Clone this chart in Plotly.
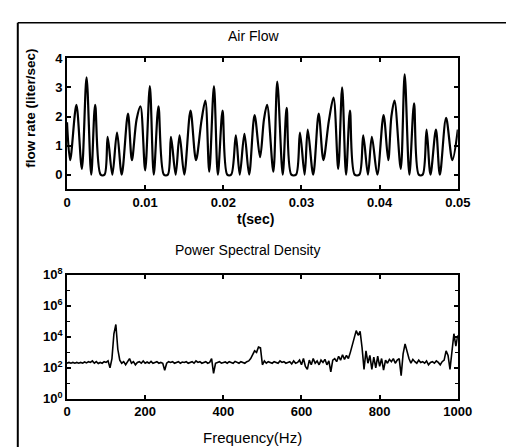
import plotly.graph_objects as go

W, H = 514, 447

# ---- Air flow (read turning points of the trace) ----
flow_t = [0.0000, 0.0004, 0.0012, 0.0019, 0.0025, 0.0031, 0.0036, 0.0043, 0.0048, 0.0052,
          0.0058, 0.0064, 0.0070, 0.0078, 0.0083, 0.0089, 0.0094, 0.0100, 0.0106, 0.0111,
          0.0117, 0.0124, 0.0129, 0.0133, 0.0139, 0.0144, 0.0150, 0.0158, 0.0165, 0.0172,
          0.0177, 0.0182, 0.0188, 0.0193, 0.0199, 0.0205, 0.0210, 0.0216, 0.0221, 0.0227,
          0.0233, 0.0240, 0.0247, 0.0252, 0.0256, 0.0264, 0.0269, 0.0276, 0.0281, 0.0287,
          0.0293, 0.0298, 0.0304, 0.0308, 0.0315, 0.0322, 0.0328, 0.0335, 0.0341, 0.0347,
          0.0352, 0.0357, 0.0362, 0.0368, 0.0374, 0.0379, 0.0385, 0.0390, 0.0397, 0.0405,
          0.0411, 0.0415, 0.0419, 0.0427, 0.0432, 0.0438, 0.0444, 0.0450, 0.0455, 0.0460,
          0.0465, 0.0472, 0.0477, 0.0485, 0.0493, 0.0500]
flow_v = [1.8, 0.5, 2.4, 0.2, 3.35, 0.0, 2.4, 0.0, 0.0, 1.3,
          0.0, 1.45, 0.0, 2.1, 0.5, 1.9, 2.35, 0.15, 3.05, 0.0,
          2.35, 0.0, 0.0, 1.3, 0.0, 1.35, 0.0, 2.2, 0.5, 1.85,
          2.55, 0.1, 3.05, 0.0, 2.2, 0.0, 0.0, 1.35, 0.0, 1.4,
          0.0, 2.05, 0.6, 1.9, 2.4, 0.1, 3.2, 0.0, 2.3, 0.0,
          0.0, 1.45, 0.0, 1.55, 0.0, 2.1, 0.5, 1.85, 2.65, 0.2,
          3.0, 0.0, 2.2, 0.0, 0.0, 1.35, 0.0, 1.3, 0.0, 2.05,
          0.5, 2.0, 2.55, 0.2, 3.45, 0.0, 2.45, 0.0, 0.0, 1.55,
          0.0, 1.55, 0.0, 1.95, 0.5, 1.55]

# ---- Power spectral density (log10 of value, every 5 Hz) ----
psd_freq = list(range(0, 1001, 5))
psd_log10 = [
    2.3, 2.35, 2.3, 2.35, 2.3, 2.35, 2.3, 2.35, 2.3, 2.38, 2.32, 2.4, 2.35, 2.45, 2.3, 2.4, 2.28, 2.35, 2.3, 2.4,
    2.35, 2.45, 2.0, 2.6, 4.2, 4.8, 3.2, 2.5, 2.3, 2.4, 2.2, 2.45, 2.6, 2.3, 2.4, 2.2, 2.35, 2.4, 2.3, 2.45,
    2.3, 2.38, 2.3, 2.42, 2.3, 2.35, 2.4, 2.3, 2.35, 2.3, 1.85, 2.3, 2.4, 2.35, 2.4, 2.3, 2.35, 2.4, 2.3, 2.38,
    2.35, 2.4, 2.3, 2.35, 2.4, 2.3, 2.45, 2.35, 2.4, 2.3, 2.35, 2.4, 2.3, 2.35, 2.6, 1.65, 2.3, 2.35, 2.4, 2.3,
    2.35, 2.38, 2.3, 2.4, 2.35, 2.3, 2.42, 2.35, 2.3, 2.4, 2.35, 2.3, 2.4, 2.45, 2.6, 2.9, 3.1, 3.0, 3.35, 3.3,
    2.2, 2.45, 2.3, 2.4, 2.35, 2.3, 2.4, 2.35, 2.3, 2.45, 2.35, 2.4, 2.3, 2.35, 2.4, 2.25, 2.45, 2.3, 2.35, 2.5,
    2.2, 2.6, 2.1, 1.9, 2.5, 2.2, 2.6, 2.3, 2.45, 2.2, 2.5, 2.35, 2.55, 2.2, 2.45, 1.75, 2.5, 2.6, 2.4, 2.75,
    2.5, 2.85, 2.55, 2.8, 2.6, 3.0, 3.5, 3.9, 4.4, 4.1, 4.35, 3.3, 1.9, 3.1, 2.3, 2.8, 1.9, 2.7, 2.0, 2.75,
    2.1, 2.6, 1.85, 2.5, 2.3, 2.55, 2.4, 2.6, 2.3, 2.5, 2.6, 1.5, 2.9, 3.55, 3.0, 2.6, 2.3, 2.55, 2.4, 2.3,
    2.5, 2.35, 2.4, 2.3, 2.45, 2.2, 2.35, 2.4, 2.3, 2.45, 2.35, 2.2, 2.4, 2.5, 3.1, 2.8, 1.9, 3.2, 4.2, 3.4,
    4.1]
psd_val = [10 ** v for v in psd_log10]

# tick labels
t_ticks = [0, 0.01, 0.02, 0.03, 0.04, 0.05]
t_labels = ["0", "0.01", "0.02", "0.03", "0.04", "0.05"]
flow_ticks = [0, 1, 2, 3, 4]
f_ticks = [0, 200, 400, 600, 800, 1000]
psd_major_exp = [0, 2, 4, 6, 8]
psd_major_labels = ["10<sup>0</sup>", "10<sup>2</sup>", "10<sup>4</sup>", "10<sup>6</sup>", "10<sup>8</sup>"]
psd_minor_exp = [1, 3, 5, 7]


def px(x):
    return x / W


def py(y):
    return 1 - y / H


FONT = "Liberation Sans, Arial, Helvetica, sans-serif"
tickfont = dict(family=FONT, size=13, color="black", weight="bold")
axis_common = dict(showline=True, linecolor="black", linewidth=1.8, mirror="ticks",
                   ticks="inside", ticklen=4, tickwidth=1.5, tickcolor="black",
                   showgrid=False, zeroline=False, tickfont=tickfont, fixedrange=True)

fig = go.Figure()
fig.add_trace(go.Scatter(x=flow_t, y=flow_v, mode="lines",
                         line=dict(color="black", width=2.2, shape="spline", smoothing=0.9),
                         xaxis="x", yaxis="y", showlegend=False, hoverinfo="skip"))
fig.add_trace(go.Scatter(x=psd_freq, y=psd_val, mode="lines",
                         line=dict(color="black", width=1.6),
                         xaxis="x2", yaxis="y2", showlegend=False, hoverinfo="skip"))

fig.update_layout(
    width=W, height=H, margin=dict(l=0, r=0, t=0, b=0),
    paper_bgcolor="white", plot_bgcolor="white",
    xaxis=dict(domain=[px(57), px(462)], range=[0, 0.05], anchor="y",
               tickmode="array", tickvals=t_ticks, ticktext=t_labels, **axis_common),
    yaxis=dict(domain=[py(179), py(43)], range=[-0.5, 4], anchor="x",
               tickmode="array", tickvals=flow_ticks, **axis_common),
    xaxis2=dict(domain=[px(57), px(462)], range=[0, 1000], anchor="y2",
                tickmode="array", tickvals=f_ticks, **axis_common),
    yaxis2=dict(domain=[py(397), py(268)], type="log", range=[0, 8], anchor="x2",
                tickmode="array", tickvals=[10 ** e for e in psd_major_exp],
                ticktext=psd_major_labels,
                minor=dict(tickmode="array", tickvals=[10 ** e for e in psd_minor_exp],
                           ticks="inside", ticklen=3, tickwidth=1.2, tickcolor="black",
                           showgrid=False),
                **axis_common),
)

ann_font = dict(family=FONT, size=14, color="black")
fig.add_annotation(text="Air Flow", x=px(250), y=py(20), xref="paper", yref="paper",
                   showarrow=False, font=ann_font, xanchor="center", yanchor="middle")
fig.add_annotation(text="t(sec)", x=px(252), y=py(210), xref="paper", yref="paper",
                   showarrow=False, font=dict(family=FONT, size=14, color="black", weight="bold"),
                   xanchor="center", yanchor="middle")
fig.add_annotation(text="flow rate (liter/sec)", x=px(19), y=py(95), xref="paper", yref="paper",
                   showarrow=False, textangle=-90,
                   font=dict(family=FONT, size=13.5, color="black", weight="bold"),
                   xanchor="center", yanchor="middle")
fig.add_annotation(text="Power Spectral Density", x=px(245), y=py(242), xref="paper", yref="paper",
                   showarrow=False, font=ann_font, xanchor="center", yanchor="middle")
fig.add_annotation(text="Frequency(Hz)", x=px(249), y=py(437), xref="paper", yref="paper",
                   showarrow=False, font=dict(family=FONT, size=15, color="black"),
                   xanchor="center", yanchor="middle")

# outer frame lines (left and top edges of the scanned figure)
fig.add_shape(type="line", xref="paper", yref="paper", x0=px(6), y0=0, x1=px(6), y1=py(6),
              line=dict(color="black", width=2))
fig.add_shape(type="line", xref="paper", yref="paper", x0=px(6), y0=py(6), x1=1, y1=py(6),
              line=dict(color="black", width=1.5))

fig.write_html("out.html")
